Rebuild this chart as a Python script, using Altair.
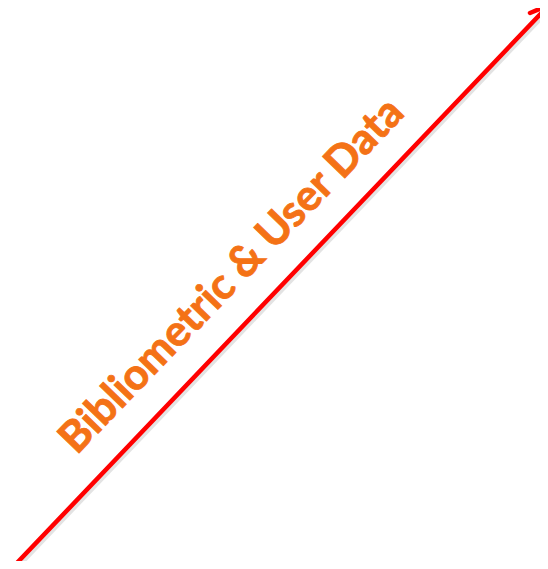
import altair as alt
import pandas as pd

# Diagram geometry (page-pixel coordinates)
seg_x1 = [15, 549, 549]
seg_y1 = [565, 5, 5]
seg_x2 = [549, 530, 545]
seg_y2 = [5, 13, 28]
seg_part = ["shaft", "barb", "barb"]

label_text = ["Bibliometric & User Data"]
label_x = [232]
label_y = [276]

segs = pd.DataFrame({"x": seg_x1, "y": seg_y1, "x2": seg_x2, "y2": seg_y2, "part": seg_part})
shadow = pd.DataFrame({"x": [v + 2.5 for v in seg_x1[:1]], "y": [v + 2.5 for v in seg_y1[:1]],
                       "x2": [v + 2.5 for v in seg_x2[:1]], "y2": [v + 2.5 for v in seg_y2[:1]]})
labels = pd.DataFrame({"x": label_x, "y": label_y, "t": label_text})

xs = alt.Scale(domain=[8, 540])
ys = alt.Scale(domain=[561, 8])

sh = alt.Chart(shadow).mark_rule(color="#c8c8c8", strokeWidth=4, opacity=0.5, strokeCap="round").encode(
    x=alt.X("x:Q", scale=xs, axis=None), y=alt.Y("y:Q", scale=ys, axis=None), x2="x2:Q", y2="y2:Q")

arrow = alt.Chart(segs).mark_rule(color="#ff0000", strokeWidth=4.5, strokeCap="round").encode(
    x=alt.X("x:Q", scale=xs, axis=None), y=alt.Y("y:Q", scale=ys, axis=None), x2="x2:Q", y2="y2:Q")

txt = alt.Chart(labels).mark_text(font="Lato", fontWeight="bold", fontSize=43, color="#f47216",
                                  stroke="#f47216", strokeWidth=0.9,
                                  angle=314, align="center", baseline="middle").encode(
    x=alt.X("x:Q", scale=xs, axis=None), y=alt.Y("y:Q", scale=ys, axis=None), text="t:N")

chart = alt.layer(sh, arrow, txt).properties(width=532, height=553, padding=0,
                                             autosize=alt.AutoSizeParams(type="none")).configure_view(
    stroke=None, clip=False)

chart.save("out.html", embed_options={"renderer": "svg", "actions": False})
